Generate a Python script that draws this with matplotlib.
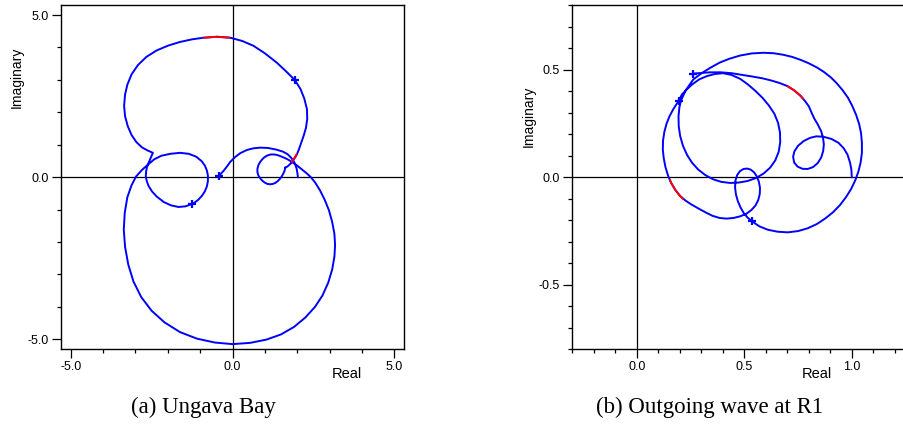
import matplotlib
matplotlib.use("Agg")
import matplotlib.pyplot as plt
from matplotlib.ticker import MultipleLocator, FormatStrFormatter

plt.rcParams["font.family"] = ["Liberation Sans", "DejaVu Sans"]
plt.rcParams["axes.unicode_minus"] = False

W, H = 904, 437

# (a) Ungava Bay -- open arc ending at the marker near the origin
arc_a_re = [-0.41, -0.28, -0.17, -0.07, 0.08, 0.24, 0.45, 0.65, 0.86, 1.10, 1.35,
            1.55, 1.70, 1.82, 1.92, 1.98, 2.01, 2.02]
arc_a_im = [0.05, 0.19, 0.33, 0.47, 0.62, 0.74, 0.84, 0.89, 0.91, 0.90, 0.85,
            0.79, 0.71, 0.59, 0.44, 0.27, 0.10, 0.0]

# (a) main loop: small right loop, big lower loop, left loop, upper lobe
loop_a_re = [1.63, 1.61, 1.57, 1.52, 1.46, 1.39, 1.32, 1.24, 1.16, 1.08, 1.00, 0.92,
             0.86, 0.80, 0.77, 0.77, 0.80, 0.85, 0.91, 0.97, 1.04, 1.11, 1.19, 1.27,
             1.35, 1.42, 1.50, 1.57, 1.64, 1.70, 1.77, 1.83, 1.98, 2.13, 2.28, 2.42,
             2.55, 2.70, 2.85, 2.98, 3.08, 3.15, 3.17, 3.15, 3.08, 2.96, 2.78, 2.55,
             2.25, 1.90, 1.50, 1.05, 0.55, 0.0, -0.55, -1.10, -1.62, -2.10, -2.50,
             -2.82, -3.06, -3.22, -3.32, -3.36, -3.33, -3.25, -3.12, -2.98, -2.80,
             -2.62, -2.42, -2.20, -1.92, -1.62, -1.35, -1.12, -0.95, -0.85, -0.79,
             -0.76, -0.76, -0.79, -0.85, -0.94, -1.05, -1.15, -1.26, -1.45, -1.67,
             -1.90, -2.12, -2.34, -2.48, -2.59, -2.65, -2.68, -2.67, -2.64, -2.56,
             -2.46, -2.62, -2.80, -2.97, -3.12, -3.24, -3.32, -3.35, -3.32, -3.25,
             -3.12, -2.92, -2.66, -2.34, -1.98, -1.62, -1.25, -0.90, -0.48, -0.07,
             0.30, 0.65, 1.00, 1.37, 1.68, 1.93, 2.10, 2.22, 2.30, 2.31, 2.27, 2.20,
             2.12, 2.05, 1.99, 1.90, 1.80, 1.70, 1.63]
loop_a_im = [0.29, 0.20, 0.11, 0.02, -0.06, -0.13, -0.18, -0.21, -0.22, -0.21, -0.17,
             -0.11, -0.04, 0.05, 0.15, 0.26, 0.37, 0.46, 0.54, 0.60, 0.65, 0.68, 0.70,
             0.70, 0.69, 0.67, 0.64, 0.61, 0.58, 0.55, 0.51, 0.47, 0.37, 0.25, 0.13,
             0.0, -0.16, -0.40, -0.70, -1.02, -1.38, -1.75, -2.10, -2.45, -2.85,
             -3.25, -3.65, -4.00, -4.33, -4.62, -4.85, -5.01, -5.11, -5.15, -5.10,
             -4.98, -4.78, -4.48, -4.12, -3.70, -3.22, -2.70, -2.15, -1.62, -1.10,
             -0.62, -0.25, 0.02, 0.22, 0.38, 0.55, 0.66, 0.72, 0.75, 0.72, 0.63,
             0.49, 0.35, 0.20, 0.05, -0.12, -0.28, -0.43, -0.57, -0.69, -0.77, -0.83,
             -0.90, -0.92, -0.87, -0.77, -0.60, -0.45, -0.28, -0.12, 0.02, 0.17, 0.32,
             0.52, 0.75, 0.82, 0.92, 1.08, 1.30, 1.58, 1.88, 2.20, 2.55, 2.85, 3.17,
             3.46, 3.71, 3.91, 4.06, 4.17, 4.25, 4.30, 4.33, 4.30, 4.20, 4.05, 3.82,
             3.53, 3.24, 2.99, 2.72, 2.42, 2.10, 1.80, 1.52, 1.28, 1.05, 0.85, 0.70,
             0.55, 0.42, 0.33, 0.29]

red_a_top_re = [-0.90, -0.48, -0.07]
red_a_top_im = [4.30, 4.33, 4.30]
red_a_side_re = [1.99, 1.90, 1.82]
red_a_side_im = [0.72, 0.57, 0.45]

mark_a_re = [-0.41, -1.25, 1.93]
mark_a_im = [0.05, -0.82, 2.99]

# (b) Outgoing wave at R1 -- open branch from (1, 0) to the marker
arc_b_re = [1.0, 0.998, 0.992, 0.980, 0.962, 0.938, 0.905, 0.868, 0.835, 0.806,
            0.776, 0.750, 0.733, 0.727, 0.732, 0.748, 0.770, 0.795, 0.820, 0.842,
            0.858, 0.867, 0.870, 0.866, 0.857, 0.842, 0.826, 0.813, 0.800, 0.782,
            0.760, 0.732, 0.700, 0.665, 0.625, 0.585, 0.540, 0.490, 0.440, 0.390,
            0.340, 0.300, 0.263]
arc_b_im = [0.0, 0.035, 0.067, 0.105, 0.135, 0.160, 0.178, 0.188, 0.190, 0.183,
            0.168, 0.146, 0.120, 0.095, 0.068, 0.049, 0.039, 0.038, 0.047, 0.066,
            0.092, 0.122, 0.153, 0.185, 0.215, 0.245, 0.272, 0.300, 0.330, 0.355,
            0.380, 0.404, 0.424, 0.438, 0.450, 0.460, 0.468, 0.476, 0.484, 0.488,
            0.488, 0.485, 0.482]

# (b) closed branch: inner loop, outer circle, small loop below the axis
loop_b_re = [0.194, 0.210, 0.232, 0.258, 0.290, 0.325, 0.362, 0.400, 0.440, 0.480,
             0.515, 0.550, 0.584, 0.614, 0.640, 0.657, 0.666, 0.667, 0.660, 0.644,
             0.620, 0.590, 0.555, 0.515, 0.475, 0.434, 0.393, 0.355, 0.318, 0.285,
             0.257, 0.234, 0.215, 0.202, 0.195, 0.194, 0.198, 0.206, 0.228, 0.263,
             0.300, 0.340, 0.385, 0.430, 0.480, 0.535, 0.589, 0.635, 0.680, 0.722,
             0.762, 0.800, 0.837, 0.870, 0.902, 0.930, 0.957, 0.982, 1.002, 1.020,
             1.034, 1.043, 1.047, 1.047, 1.041, 1.031, 1.016, 0.997, 0.973, 0.945,
             0.913, 0.877, 0.838, 0.795, 0.750, 0.702, 0.655, 0.610, 0.570, 0.535,
             0.515, 0.498, 0.483, 0.470, 0.461, 0.457, 0.459, 0.467, 0.480, 0.496,
             0.513, 0.530, 0.546, 0.559, 0.568, 0.573, 0.572, 0.565, 0.552, 0.533,
             0.510, 0.482, 0.450, 0.417, 0.385, 0.352, 0.318, 0.285, 0.252, 0.225,
             0.200, 0.178, 0.160, 0.145, 0.133, 0.125, 0.121, 0.122, 0.128, 0.138,
             0.152, 0.170, 0.194]
loop_b_im = [0.354, 0.385, 0.408, 0.432, 0.455, 0.470, 0.480, 0.484, 0.476, 0.458,
             0.433, 0.403, 0.370, 0.334, 0.295, 0.253, 0.208, 0.162, 0.118, 0.078,
             0.044, 0.017, -0.004, -0.018, -0.025, -0.027, -0.022, -0.010, 0.010,
             0.036, 0.067, 0.103, 0.145, 0.190, 0.237, 0.283, 0.325, 0.358, 0.405,
             0.455, 0.483, 0.508, 0.533, 0.551, 0.566, 0.576, 0.579, 0.577, 0.570,
             0.560, 0.546, 0.530, 0.511, 0.490, 0.465, 0.437, 0.405, 0.370, 0.332,
             0.290, 0.248, 0.205, 0.160, 0.113, 0.068, 0.027, -0.015, -0.055,
             -0.093, -0.130, -0.163, -0.192, -0.218, -0.238, -0.251, -0.257, -0.254,
             -0.245, -0.229, -0.205, -0.188, -0.168, -0.142, -0.112, -0.080, -0.047,
             -0.015, 0.010, 0.028, 0.038, 0.040, 0.035, 0.022, 0.002, -0.022, -0.050,
             -0.078, -0.106, -0.132, -0.153, -0.170, -0.182, -0.190, -0.193, -0.190,
             -0.180, -0.163, -0.145, -0.126, -0.108, -0.086, -0.058, -0.027, 0.008,
             0.048, 0.090, 0.129, 0.170, 0.210, 0.248, 0.283, 0.317, 0.354]

red_b_top_re = [0.775, 0.760, 0.732, 0.700]
red_b_top_im = [0.364, 0.380, 0.404, 0.424]
red_b_low_re = [0.217, 0.200, 0.178, 0.160, 0.152]
red_b_low_im = [-0.104, -0.086, -0.058, -0.027, -0.010]

mark_b_re = [0.263, 0.194, 0.535]
mark_b_im = [0.482, 0.354, -0.205]

BLUE = "#0000ff"
RED = "#ff0000"


def px_axes(left, right, top, bottom):
    return fig.add_axes([left / W, 1 - bottom / H, (right - left) / W, (bottom - top) / H])


def style(ax, major, minor):
    ax.xaxis.set_major_locator(MultipleLocator(major))
    ax.xaxis.set_minor_locator(MultipleLocator(minor))
    ax.yaxis.set_major_locator(MultipleLocator(major))
    ax.yaxis.set_minor_locator(MultipleLocator(minor))
    ax.xaxis.set_major_formatter(FormatStrFormatter("%.1f"))
    ax.yaxis.set_major_formatter(FormatStrFormatter("%.1f"))
    ax.tick_params(which="major", direction="out", length=6.5, width=0.9,
                   labelsize=9, pad=2.5, colors="black")
    ax.tick_params(which="minor", direction="out", length=3, width=0.9)
    for s in ax.spines.values():
        s.set_linewidth(1.0)
    ax.axhline(0, color="black", lw=0.9, zorder=1)
    ax.axvline(0, color="black", lw=0.9, zorder=1)


def draw(ax, pieces, reds, marks):
    for xs, ys in pieces:
        ax.plot(xs, ys, color=BLUE, lw=1.4, zorder=3, solid_joinstyle="round")
    for xs, ys in reds:
        ax.plot(xs, ys, color=RED, lw=1.4, zorder=4, solid_capstyle="butt")
    ax.plot(marks[0], marks[1], ls="none", marker="+", ms=6, mew=1.6,
            color=BLUE, zorder=5)


fig = plt.figure(figsize=(W / 100, H / 100), dpi=100)

# panel (a)
ax_a = px_axes(61, 404, 5.3, 349)
ax_a.set_xlim(-5.3, 5.3)
ax_a.set_ylim(-5.3, 5.3)
style(ax_a, 5, 1)
draw(ax_a, [(arc_a_re, arc_a_im), (loop_a_re, loop_a_im)],
     [(red_a_top_re, red_a_top_im), (red_a_side_re, red_a_side_im)],
     (mark_a_re, mark_a_im))
fig.text(346.7 / W, 1 - 374 / H, "Real", fontsize=10.5, ha="center", va="center")
fig.text(16.5 / W, 1 - 77.5 / H, "Imaginary", fontsize=10, rotation=90,
         ha="center", va="center")
fig.text(203 / W, 1 - 407 / H, "(a) Ungava Bay", fontsize=16.5,
         family=["Liberation Serif", "DejaVu Serif"], ha="center", va="center")

# panel (b), cut off at the right edge of the image
ax_b = px_axes(572.3, 572.3 + 1.55 * 215, 5.3, 349)
ax_b.set_xlim(-0.3, 1.25)
ax_b.set_ylim(-0.8, 0.8)
style(ax_b, 0.5, 0.1)
ax_b.spines["right"].set_visible(False)
draw(ax_b, [(arc_b_re, arc_b_im), (loop_b_re, loop_b_im)],
     [(red_b_top_re, red_b_top_im), (red_b_low_re, red_b_low_im)],
     (mark_b_re, mark_b_im))
fig.text(816.7 / W, 1 - 374 / H, "Real", fontsize=10.5, ha="center", va="center")
fig.text(529 / W, 1 - 116.7 / H, "Imaginary", fontsize=10, rotation=90,
         ha="center", va="center")
fig.text(710 / W, 1 - 407 / H, "(b) Outgoing wave at R1", fontsize=16.5,
         family=["Liberation Serif", "DejaVu Serif"], ha="center", va="center")

fig.savefig("out.png", dpi=100)
